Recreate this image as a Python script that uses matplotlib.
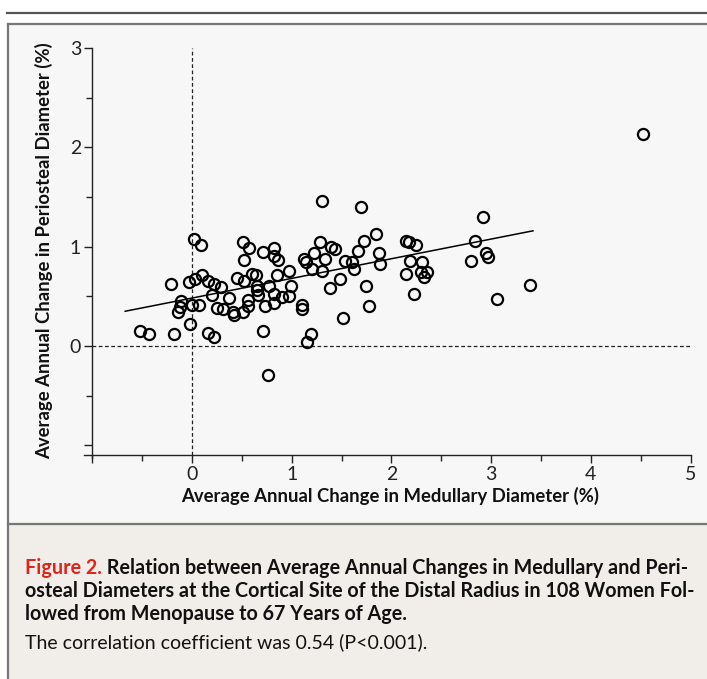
import matplotlib
matplotlib.use("Agg")
import matplotlib.pyplot as plt
from matplotlib.patches import Rectangle
from matplotlib.lines import Line2D

# ---- data ----
medullary = [-0.52, -0.43, -0.21, -0.18, -0.14, -0.12, -0.11, -0.03, -0.02, 0.00,
             0.02, 0.03, 0.07, 0.09, 0.10, 0.16, 0.16, 0.20, 0.22, 0.22,
             0.25, 0.29, 0.31, 0.37, 0.41, 0.42, 0.45, 0.51, 0.52, 0.52,
             0.51, 0.56, 0.56, 0.57, 0.60, 0.64, 0.65, 0.65, 0.66, 0.71,
             0.71, 0.73, 0.76, 0.77, 0.82, 0.82, 0.86, 0.82, 0.82, 0.85,
             0.90, 0.97, 0.97, 0.99, 1.10, 1.10, 1.14, 1.12, 1.15, 1.19,
             1.20, 1.22, 1.28, 1.30, 1.30, 1.33, 1.38, 1.39, 1.43, 1.48,
             1.51, 1.53, 1.60, 1.62, 1.66, 1.70, 1.73, 1.75, 1.78, 1.85,
             1.88, 1.89, 2.15, 2.18, 2.15, 2.19, 2.23, 2.25, 2.30, 2.31,
             2.33, 2.36, 2.80, 2.84, 2.92, 2.95, 2.97, 3.06, 3.39, 4.52]
periosteal = [0.15, 0.12, 0.62, 0.12, 0.34, 0.39, 0.45, 0.64, 0.22, 0.41,
              1.08, 0.67, 0.41, 1.02, 0.72, 0.13, 0.65, 0.51, 0.62, 0.09,
              0.38, 0.59, 0.37, 0.48, 0.34, 0.31, 0.68, 1.05, 0.87, 0.65,
              0.34, 0.40, 0.46, 0.99, 0.73, 0.72, 0.60, 0.56, 0.51, 0.95,
              0.15, 0.40, -0.29, 0.60, 0.99, 0.91, 0.87, 0.52, 0.43, 0.72,
              0.49, 0.76, 0.50, 0.60, 0.41, 0.37, 0.85, 0.88, 0.04, 0.12,
              0.78, 0.94, 1.05, 1.46, 0.76, 0.88, 0.58, 1.00, 0.98, 0.67,
              0.28, 0.86, 0.85, 0.78, 0.96, 1.40, 1.06, 0.60, 0.40, 1.13,
              0.94, 0.83, 1.06, 1.05, 0.73, 0.86, 0.52, 1.02, 0.75, 0.85,
              0.69, 0.75, 0.86, 1.06, 1.30, 0.94, 0.90, 0.47, 0.61, 2.13]
fit_x = [-0.67, 3.42]
fit_y = [0.35, 1.16]
x_ticks = [-1, 0, 1, 2, 3, 4, 5]
x_ticklabels = ["", "0", "1", "2", "3", "4", "5"]
y_ticks = [-1, 0, 1, 2, 3]
y_ticklabels = ["", "0", "1", "2", "3"]
x_label = "Average Annual Change in Medullary Diameter (%)"
y_label = "Average Annual Change in Periosteal Diameter (%)"
cap_red = "Figure 2."
cap_lines = [" Relation between Average Annual Changes in Medullary and Peri-",
             "osteal Diameters at the Cortical Site of the Distal Radius in 108 Women Fol-",
             "lowed from Menopause to 67 Years of Age."]
cap_note = "The correlation coefficient was 0.54 (P<0.001)."

W, H = 707, 679
fig = plt.figure(figsize=(W / 100, H / 100), dpi=100)
fig.patch.set_facecolor("white")

def fx(px):
    return px / W

def fy(py):
    return 1 - py / H

# frame / panels
fig.add_artist(Line2D([fx(7), 1], [fy(13), fy(13)], color="#555555", lw=1.6))
fig.add_artist(Rectangle((fx(8), fy(524)), 1 - fx(8), fy(24) - fy(524),
                         facecolor="#f7f7f7", edgecolor="none", zorder=0))
fig.add_artist(Rectangle((fx(8), 0), 1 - fx(8), fy(524), facecolor="#f1ede8",
                         edgecolor="none", zorder=0))
fig.add_artist(Line2D([fx(8), 1], [fy(24), fy(24)], color="#777777", lw=1.6))
fig.add_artist(Line2D([fx(8), 1], [fy(524), fy(524)], color="#777777", lw=1.6))
fig.add_artist(Line2D([fx(8), fx(8)], [0, fy(24)], color="#777777", lw=1.6))

# axes: x px = 192 + 99.7*x ; y px = 346 - 99.3*y
xmin, xmax = -1.08, 5.0
ymin, ymax = -1.13, 3.0
left_px = 192 + 99.7 * xmin
right_px = 192 + 99.7 * xmax
top_px = 346 - 99.3 * ymax
bot_px = 346 - 99.3 * ymin
ax = fig.add_axes([fx(left_px), fy(bot_px), fx(right_px - left_px), (bot_px - top_px) / H])
ax.set_facecolor("none")
ax.set_xlim(xmin, xmax)
ax.set_ylim(ymin, ymax)

for s in ["top", "right"]:
    ax.spines[s].set_visible(False)
ax.spines["left"].set_position(("data", -1))
ax.spines["bottom"].set_position(("data", -1.1))
for s in ["left", "bottom"]:
    ax.spines[s].set_linewidth(1.0)
    ax.spines[s].set_color("#222222")

ax.plot([0, 0], [-1.1, 3.0], ls=(0, (3, 2)), color="#222222", lw=0.9, zorder=1)
ax.plot([-1, 5], [0, 0], ls=(0, (3, 2)), color="#222222", lw=0.9, zorder=1)

ax.plot(fit_x, fit_y, color="black", lw=1.1, zorder=2)
ax.plot(medullary, periosteal, ls="none", marker="o", ms=8, mfc="none",
        mec="black", mew=1.6, zorder=3)

tick_kw = dict(fontsize=14, fontfamily=["Lato", "DejaVu Sans"], color="#222222")
ax.set_xticks(x_ticks)
ax.set_xticklabels(x_ticklabels, **tick_kw)
ax.set_yticks(y_ticks)
ax.set_yticklabels(y_ticklabels, **tick_kw)
ax.set_xticks([-0.5, 0.5, 1.5, 2.5, 3.5, 4.5], minor=True)
ax.set_yticks([-0.5, 0.5, 1.5, 2.5], minor=True)
ax.tick_params(which="major", direction="out", length=6, width=1.0, color="#222222", pad=2)
ax.tick_params(which="minor", direction="out", length=4, width=1.0, color="#222222")

label_font = dict(family=["Lato", "DejaVu Sans"], size=13.3, weight="bold")
fig.text(fx(390), fy(496), x_label, ha="center", va="center", color="#111111", **label_font)
fig.text(fx(44), fy(251), y_label, ha="center", va="center", rotation=90,
         color="#111111", **label_font)

# caption
cap_font = dict(family=["Lato", "DejaVu Sans"], size=14.2, weight="bold")
renderer = fig.canvas.get_renderer()
t_red = fig.text(fx(25), fy(568), cap_red, ha="left", va="center", color="#e2231a", **cap_font)
bb = t_red.get_window_extent(renderer=renderer)
fig.text(bb.x1 / W, fy(568), cap_lines[0], ha="left", va="center", color="#111111", **cap_font)
fig.text(fx(25), fy(591), cap_lines[1], ha="left", va="center", color="#111111", **cap_font)
fig.text(fx(25), fy(614), cap_lines[2], ha="left", va="center", color="#111111", **cap_font)
fig.text(fx(25), fy(642), cap_note, ha="left", va="center", color="#111111",
         family=["Lato", "DejaVu Sans"], size=14.0)

fig.savefig("out.png", dpi=100, facecolor=fig.get_facecolor())
